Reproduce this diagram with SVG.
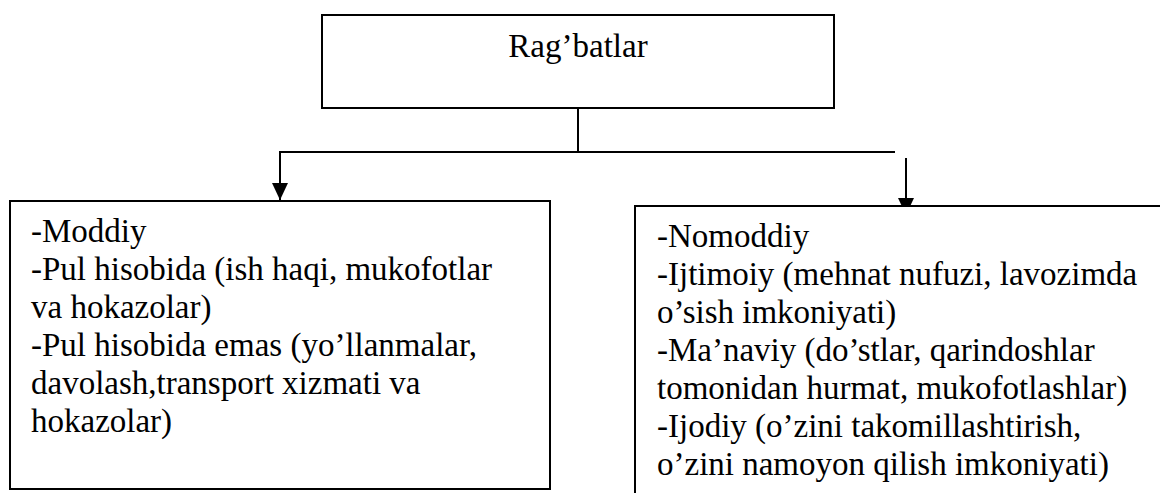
<svg xmlns="http://www.w3.org/2000/svg" width="1160" height="493" viewBox="0 0 1160 493">
  <style>
    .box { fill: #ffffff; stroke: #000000; stroke-width: 2; }
    .wire { fill: none; stroke: #000000; stroke-width: 2; }
    .label { font-family: "Liberation Serif", "Times New Roman", serif; font-size: 33px; fill: #000000; }
  </style>
  <defs>
    <marker id="arrowhead" markerUnits="userSpaceOnUse" markerWidth="17" markerHeight="16" refX="17" refY="8" orient="auto">
      <path d="M0,0 L17,8 L0,16 Z" fill="#000000"/>
    </marker>
  </defs>

  <rect width="1160" height="493" fill="#ffffff"/>

  <!-- connectors -->
  <g id="connectors">
    <path class="wire" d="M578,108 V152"/>
    <path class="wire" d="M895,152 H280 V200" marker-end="url(#arrowhead)"/>
    <path class="wire" d="M906,158 V215" marker-end="url(#arrowhead)"/>
  </g>

  <!-- root node -->
  <g id="node-ragbatlar">
    <rect class="box" x="322" y="15" width="512" height="93"/>
    <text class="label" x="578" y="57" text-anchor="middle">Rag’batlar</text>
  </g>

  <!-- material incentives -->
  <g id="node-moddiy">
    <rect class="box" x="10" y="201" width="540" height="288"/>
    <text class="label" x="31">
      <tspan x="31" y="242">-Moddiy</tspan>
      <tspan x="31" y="280">-Pul hisobida (ish haqi, mukofotlar</tspan>
      <tspan x="31" y="318">va hokazolar)</tspan>
      <tspan x="31" y="356">-Pul hisobida emas (yo’llanmalar,</tspan>
      <tspan x="31" y="394">davolash,transport xizmati va</tspan>
      <tspan x="31" y="432">hokazolar)</tspan>
    </text>
  </g>

  <!-- non-material incentives -->
  <g id="node-nomoddiy">
    <rect class="box" x="635" y="206" width="600" height="320"/>
    <text class="label" x="657">
      <tspan x="657" y="247">-Nomoddiy</tspan>
      <tspan x="657" y="285">-Ijtimoiy (mehnat nufuzi, lavozimda</tspan>
      <tspan x="657" y="323">o’sish imkoniyati)</tspan>
      <tspan x="657" y="361">-Ma’naviy (do’stlar, qarindoshlar</tspan>
      <tspan x="657" y="399">tomonidan hurmat, mukofotlashlar)</tspan>
      <tspan x="657" y="437">-Ijodiy (o’zini takomillashtirish,</tspan>
      <tspan x="657" y="475">o’zini namoyon qilish imkoniyati)</tspan>
    </text>
  </g>
</svg>
